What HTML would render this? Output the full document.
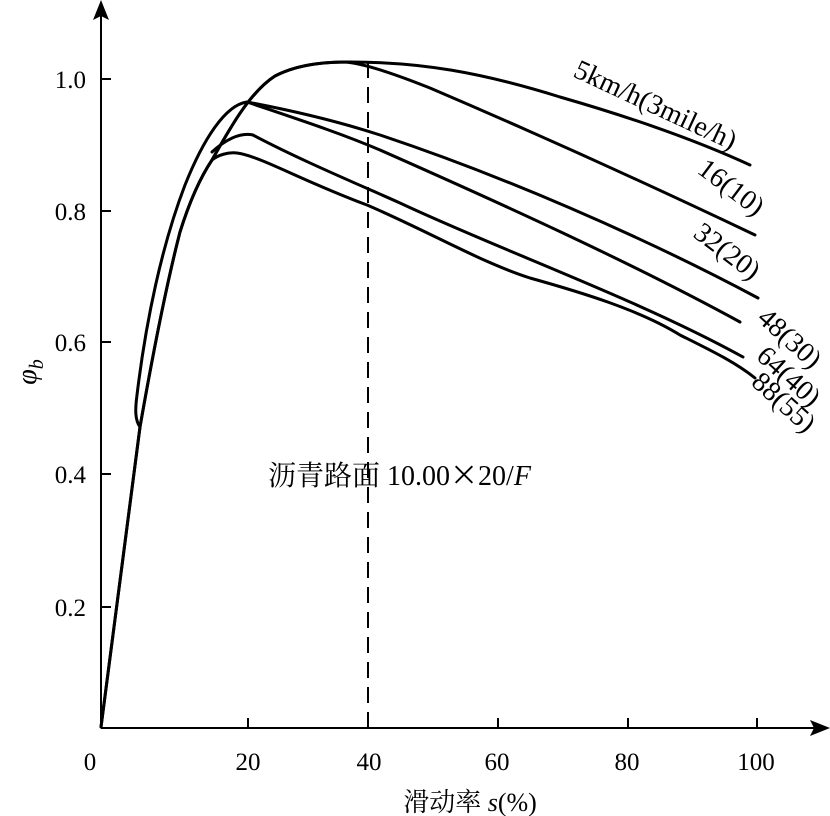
<!DOCTYPE html>
<html><head><meta charset="utf-8"><style>
html,body{margin:0;padding:0;background:#fff;}
svg{display:block;}
text{font-family:"Liberation Serif","Noto Serif CJK SC",serif;fill:#000;}
</style></head><body>
<svg id="s" width="830" height="816" viewBox="0 0 830 816" xmlns="http://www.w3.org/2000/svg">
<line x1="101" y1="728" x2="818" y2="728" stroke="#000" stroke-width="2"/>
<polygon points="830,728 810,720 814,728 810,736" fill="#000"/>
<line x1="101" y1="728" x2="101" y2="10" stroke="#000" stroke-width="2"/>
<polygon points="101,0 93,20 101,16 109,20" fill="#000"/>
<g stroke="#000" stroke-width="2">
<line x1="248" y1="728" x2="248" y2="718"/><line x1="368" y1="728" x2="368" y2="718"/>
<line x1="498" y1="728" x2="498" y2="718"/><line x1="628" y1="728" x2="628" y2="718"/>
<line x1="757" y1="728" x2="757" y2="718"/>
<line x1="101" y1="79" x2="111" y2="79"/><line x1="101" y1="211" x2="111" y2="211"/>
<line x1="101" y1="342" x2="111" y2="342"/><line x1="101" y1="474" x2="111" y2="474"/>
<line x1="101" y1="607" x2="111" y2="607"/>
</g>
<g font-size="25" text-anchor="middle">
<text x="90" y="770">0</text><text x="248" y="770">20</text><text x="369" y="770">40</text>
<text x="497" y="770">60</text><text x="627" y="770">80</text><text x="756" y="770">100</text>
</g>
<g font-size="25" text-anchor="end">
<text x="86" y="88">1.0</text><text x="86" y="220">0.8</text><text x="86" y="351">0.6</text>
<text x="86" y="483">0.4</text><text x="86" y="616">0.2</text>
</g>
<text x="470" y="811" font-size="26" text-anchor="middle">滑动率 <tspan font-style="italic">s</tspan>(%)</text>
<text transform="translate(36,372) rotate(-90)" font-size="28" font-style="italic" text-anchor="middle">φ<tspan font-size="20" dy="7">b</tspan></text>
<text x="268" y="485" font-size="28">沥青路面 10.00<tspan font-family="Noto Sans CJK SC">×</tspan>20/<tspan font-style="italic">F</tspan></text>
<line x1="368" y1="62" x2="368" y2="728" stroke="#000" stroke-width="2" stroke-dasharray="16,9"/>
<g id="curves" fill="none" stroke="#000" stroke-width="3" stroke-linejoin="round" stroke-linecap="round"></g>
<g font-size="28">
<text transform="translate(572,76) rotate(25)">5km/h(3mile/h)</text>
<text transform="translate(696,172) rotate(37)">16(10)</text>
<text transform="translate(692,236) rotate(37)">32(20)</text>
<text transform="translate(756,320) rotate(42)">48(30)</text>
<text transform="translate(755,358) rotate(42)">64(40)</text>
<text transform="translate(750,384) rotate(42)">88(55)</text>
</g>
</svg>
<script>
var outerS="M140,427 C135,420 135,410 137,395 C146,320 162,245 185,185 C203,140 225,105 247,102";
var innerS="M101,727 L140,427 C150,370 165,290 180,232 C190,200 200,178 212,160";
var g=document.getElementById("curves");
function add(d){var e=document.createElementNS("http://www.w3.org/2000/svg","path");e.setAttribute("d",d);g.appendChild(e);}
add(outerS);
add(innerS+" C230,128 250,92 275,76 C300,63 330,62 350,62 C420,62 480,72 560,97 C640,120 700,142 750,165");
add(innerS+" C230,128 250,92 275,76 C300,63 330,62 345,62 C360,63 390,72 430,88 C540,135 650,185 755,235");
add("M247,102 C300,112 340,122 380,135 C500,175 640,235 758,298");
add("M247,102 C300,120 340,133 380,150 C500,203 630,262 740,322");
add("M212,152 C225,140 240,132 253,135 C300,160 360,185 400,203 C500,250 640,300 743,357");
add("M212,160 C218,155 228,152 237,153 C260,156 300,180 367,205 C430,232 480,262 530,278 C580,292 640,310 680,335 C710,350 735,362 755,378");
</script>
</body></html>
